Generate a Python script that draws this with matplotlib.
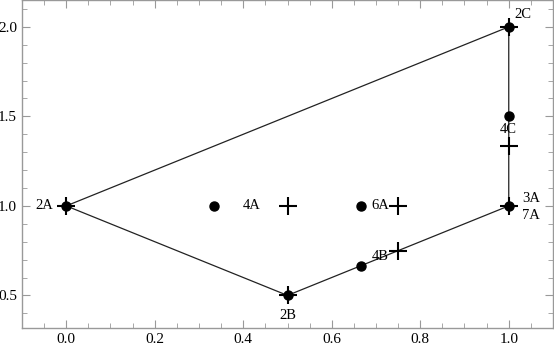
import matplotlib.pyplot as plt
from matplotlib.ticker import MultipleLocator

# polygon outline (closed)
poly_x = [0.0, 1.0, 1.0, 0.5, 0.0]
poly_y = [1.0, 2.0, 1.0, 0.5, 1.0]

# filled dots
dot_x = [0.0, 1/3, 2/3, 0.5, 2/3, 1.0, 1.0, 1.0]
dot_y = [1.0, 1.0, 1.0, 0.5, 2/3, 2.0, 1.5, 1.0]

# plus markers
plus_x = [0.0, 0.5, 0.75, 0.5, 0.75, 1.0, 1.0, 1.0]
plus_y = [1.0, 1.0, 1.0, 0.5, 0.75, 2.0, 4/3, 1.0]

# point labels
lab_text = ["2A", "4A", "6A", "4B", "2B", "2C", "4C", "3A", "7A"]
lab_x = [-0.05, 0.42, 0.709, 0.71, 0.5, 1.033, 1.0, 1.05, 1.05]
lab_y = [1.0, 1.0, 1.0, 0.717, 0.39, 2.067, 1.428, 1.044, 0.944]

plt.rcParams["font.family"] = ["Liberation Serif", "DejaVu Serif"]

fig = plt.figure(figsize=(5.54, 3.49), dpi=100)
ax = fig.add_axes([22 / 554, 1 - 328 / 349, 531 / 554, 328 / 349])

ax.plot(poly_x, poly_y, color="#222222", lw=0.9, zorder=2)
ax.plot(dot_x, dot_y, "o", color="black", ms=6.5, zorder=3)
ax.plot(plus_x, plus_y, "+", color="black", ms=13, mew=1.5, zorder=4)

for t, x, y in zip(lab_text, lab_x, lab_y):
    ax.text(x, y, t, ha="center", va="center", fontsize=10.5, zorder=5)

ax.set_xlim(-0.1, 1.1)
ax.set_ylim(0.318, 2.15)
ax.xaxis.set_major_locator(MultipleLocator(0.2))
ax.xaxis.set_minor_locator(MultipleLocator(0.05))
ax.yaxis.set_major_locator(MultipleLocator(0.5))
ax.yaxis.set_minor_locator(MultipleLocator(0.1))
ax.xaxis.set_major_formatter(lambda v, p: f"{v:.1f}")
ax.yaxis.set_major_formatter(lambda v, p: f"{v:.1f}")

ax.tick_params(which="both", direction="in", top=True, right=True,
               color="#999999", labelsize=11)
ax.tick_params(axis="y", pad=3.5)
ax.tick_params(axis="x", pad=3.5)
ax.tick_params(which="major", length=6, width=0.8)
ax.tick_params(which="minor", length=3.5, width=0.6)
for s in ax.spines.values():
    s.set_color("#999999")
    s.set_linewidth(1.0)

fig.savefig("out.png", dpi=100)
